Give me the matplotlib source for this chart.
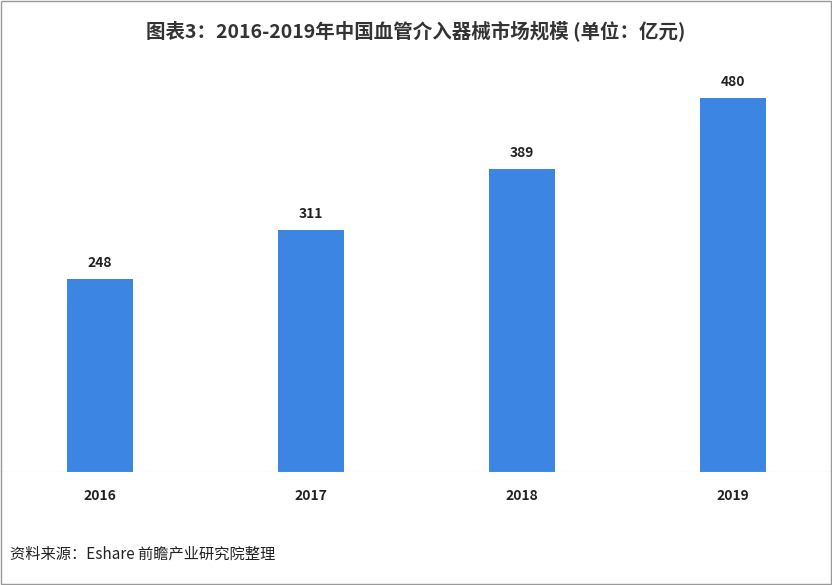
import matplotlib
matplotlib.use("Agg")
import matplotlib.pyplot as plt
from matplotlib.patches import Rectangle

plt.rcParams['font.family'] = ['Noto Sans CJK SC', 'DejaVu Sans']

years = ["2016", "2017", "2018", "2019"]
values = [248, 311, 389, 480]

BAR = "#3D85E3"
INK = "#222222"

fig = plt.figure(figsize=(8.32, 5.85), dpi=100)
ax = fig.add_axes([0, 0.193, 1, 0.704])
x = range(len(years))
ax.bar(x, values, width=0.31, color=BAR)
for xi, v in zip(x, values):
    ax.text(xi, v + 12, str(v), ha="center", va="bottom", fontsize=10,
            fontweight="bold", color=INK)
ax.set_xlim(-0.474, 3.469)
ax.set_ylim(0, 529)
ax.axhline(0, color="#cccccc", lw=0.8)
for s in ax.spines.values():
    s.set_visible(False)
ax.set_yticks([])
ax.set_xticks(list(x))
ax.set_xticklabels(years, fontsize=10, fontweight="bold", color=INK)
ax.tick_params(axis="x", length=0, pad=12)

fig.text(0.5, 0.948, "图表3：2016-2019年中国血管介入器械市场规模 (单位：亿元)",
         ha="center", va="center", fontsize=14, fontweight="bold", color="#333333")
fig.text(0.012, 0.052, "资料来源：Eshare 前瞻产业研究院整理", ha="left", va="center",
         fontsize=11, color=INK)
fig.add_artist(Rectangle((0.001, 0.001), 0.998, 0.998, transform=fig.transFigure,
                         fill=False, ec="#999999", lw=1))
fig.savefig("out.png", dpi=100)
